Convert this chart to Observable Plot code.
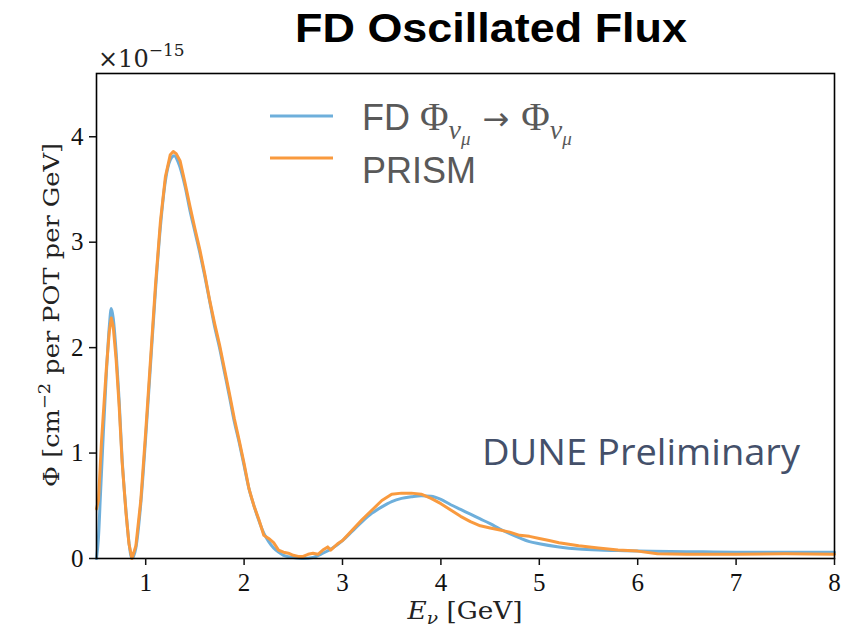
<!DOCTYPE html>
<html>
<head>
<meta charset="utf-8">
<script src="https://cdn.jsdelivr.net/npm/d3@7"></script>
<script src="https://cdn.jsdelivr.net/npm/@observablehq/plot@0.6"></script>
<style>
  html, body { margin: 0; padding: 0; background: #fff; }
  #chart svg { display: block; }
</style>
</head>
<body>
<div id="chart"></div>
<script>
// ---- Data ----
const titleText = "FD Oscillated Flux";
const seriesNames = ["FD", "PRISM"];
const xTicks = [1, 2, 3, 4, 5, 6, 7, 8];
const yTicks = [0, 1, 2, 3, 4];

// FD oscillated flux (blue), E in GeV, flux in 1e-15
const fdE = [0.5, 0.52, 0.54, 0.57, 0.6, 0.63, 0.65, 0.67, 0.7, 0.73, 0.76, 0.8, 0.83, 0.86,
  0.9, 0.95, 1.0, 1.05, 1.1, 1.15, 1.2, 1.25, 1.29, 1.33, 1.4,
  1.45, 1.5, 1.55, 1.6, 1.65, 1.7, 1.75, 1.8, 1.85, 1.9, 1.95, 2.0, 2.05, 2.1, 2.15, 2.2, 2.25, 2.3, 2.35, 2.4,
  2.5, 2.6, 2.7, 2.8, 2.9, 3.0, 3.1, 3.2, 3.3, 3.4, 3.5, 3.6, 3.7, 3.8, 3.9, 4.0, 4.1, 4.2, 4.3, 4.4, 4.5, 4.6, 4.7, 4.8, 4.9, 5.0,
  5.2, 5.4, 5.6, 5.8, 6.0, 6.5, 7.0, 7.5, 8.0];
const fdPhi = [0.0, 0.2, 0.6, 1.2, 1.75, 2.2, 2.37, 2.28, 1.95, 1.5, 0.95, 0.45, 0.15, 0.0,
  0.1, 0.52, 1.15, 1.85, 2.55, 3.15, 3.58, 3.78, 3.82, 3.76, 3.53,
  3.3, 3.1, 2.9, 2.68, 2.44, 2.2, 2.0, 1.77, 1.54, 1.3, 1.1, 0.88, 0.66, 0.5, 0.36, 0.24, 0.16, 0.1, 0.06, 0.03,
  0.01, 0.0, 0.01, 0.05, 0.1, 0.17, 0.26, 0.35, 0.43, 0.49, 0.54, 0.57, 0.585, 0.595, 0.59, 0.56, 0.51, 0.465, 0.42, 0.375, 0.33, 0.28, 0.235, 0.195, 0.16, 0.14,
  0.11, 0.09, 0.08, 0.075, 0.07, 0.065, 0.06, 0.06, 0.06];

// PRISM prediction (orange)
const prismE = [0.5, 0.52, 0.55, 0.6, 0.63, 0.65, 0.67, 0.7, 0.73, 0.76, 0.8, 0.83, 0.86,
  0.9, 0.95, 1.0, 1.05, 1.1, 1.15, 1.2, 1.25, 1.28, 1.31, 1.35,
  1.4, 1.45, 1.5, 1.55, 1.6, 1.65, 1.7, 1.75, 1.8, 1.85, 1.9, 1.95, 2.0, 2.05, 2.1, 2.15, 2.2, 2.25, 2.3, 2.35, 2.4, 2.45, 2.5, 2.55, 2.6, 2.65, 2.7, 2.75, 2.8, 2.85,
  2.88, 2.95,
  3.0, 3.1, 3.2, 3.3, 3.4, 3.5, 3.6, 3.7, 3.8, 3.9, 4.0, 4.1, 4.2, 4.3, 4.4, 4.5, 4.6, 4.7, 4.8, 4.9, 5.0, 5.1, 5.2,
  5.4, 5.6, 5.8, 6.0, 6.2, 6.5, 7.0, 7.5, 8.0];
const prismPhi = [0.47, 0.55, 1.1, 1.8, 2.15, 2.28, 2.2, 1.88, 1.45, 0.92, 0.43, 0.14, 0.0,
  0.12, 0.55, 1.2, 1.9, 2.6, 3.2, 3.62, 3.83, 3.86, 3.84, 3.77,
  3.56, 3.34, 3.13, 2.93, 2.7, 2.45, 2.23, 2.03, 1.8, 1.57, 1.33, 1.12, 0.9, 0.66, 0.5, 0.37, 0.22, 0.19, 0.15, 0.08, 0.06, 0.05, 0.03, 0.02, 0.02, 0.04, 0.05, 0.04, 0.08, 0.11,
  0.08, 0.14,
  0.17, 0.27, 0.37, 0.46, 0.55, 0.61, 0.62, 0.62, 0.61, 0.57, 0.52, 0.46, 0.4, 0.35, 0.31, 0.29, 0.27, 0.25, 0.22, 0.21, 0.19, 0.17, 0.15,
  0.12, 0.1, 0.08, 0.07, 0.045, 0.04, 0.04, 0.045, 0.04];

const colors = ["#6eafdb", "#f99a3e"];

const fd = fdE.map((e, i) => ({E: e, phi: fdPhi[i]}));
const prism = prismE.map((e, i) => ({E: e, phi: prismPhi[i]}));

const W = 861, H = 635;
const mL = 96, mR = 27, mT = 73, mB = 77;

const svg = Plot.plot({
  width: W, height: H,
  marginLeft: mL, marginRight: mR, marginTop: mT, marginBottom: mB,
  style: {fontFamily: "'Liberation Serif', serif", fontSize: "25px", color: "#111", background: "#fff", overflow: "visible"},
  x: {domain: [0.5, 8]},
  y: {domain: [0, 4.6]},
  marks: [
    Plot.line(fd, {x: "E", y: "phi", stroke: colors[0], strokeWidth: 3, curve: "monotone-x"}),
    Plot.line(prism, {x: "E", y: "phi", stroke: colors[1], strokeWidth: 3, curve: "linear"}),
    Plot.frame({stroke: "#000", strokeWidth: 1.6}),
    Plot.axisX({ticks: xTicks, tickSize: 7, tickPadding: 8, label: null, strokeWidth: 1.5, tickFormat: d => String(d)}),
    Plot.axisY({ticks: yTicks, tickSize: 7, tickPadding: 6, label: null, strokeWidth: 1.5, tickFormat: d => String(d)})
  ]
});

document.getElementById("chart").appendChild(svg);

const s = d3.select(svg);
const serif = "'DejaVu Serif', 'Liberation Serif', serif";
const tserif = "'Liberation Serif', serif";
const sans = "'Liberation Sans', Arial, sans-serif";

// Title
s.append("text")
  .attr("x", 491).attr("y", 42)
  .attr("text-anchor", "middle")
  .attr("font-family", sans).attr("font-weight", "bold")
  .attr("font-size", 40).attr("fill", "#000")
  .attr("textLength", 392).attr("lengthAdjust", "spacingAndGlyphs")
  .text(titleText);

// ×10^-15 multiplier
const mult = s.append("text").attr("x", 98).attr("y", 67)
  .attr("text-anchor", "start")
  .attr("font-family", serif).attr("font-size", 24).attr("fill", "#222");
mult.append("tspan").text("×10");
mult.append("tspan").attr("dy", -11).attr("font-size", 17).text("−15");

// Y axis label
const yl = s.append("text")
  .attr("transform", "translate(59,315) rotate(-90)")
  .attr("text-anchor", "middle")
  .attr("font-family", serif).attr("font-size", 23).attr("fill", "#222")
  .attr("textLength", 344).attr("lengthAdjust", "spacingAndGlyphs");
yl.append("tspan").text("Φ [cm");
yl.append("tspan").attr("dy", -9).attr("font-size", 16).text("−2");
yl.append("tspan").attr("dy", 9).text(" per POT per GeV]");

// X axis label
const xl = s.append("text")
  .attr("x", 465).attr("y", 619)
  .attr("text-anchor", "middle")
  .attr("font-family", serif).attr("font-size", 24).attr("fill", "#222")
  .attr("textLength", 115).attr("lengthAdjust", "spacingAndGlyphs");
xl.append("tspan").attr("font-style", "italic").text("E");
xl.append("tspan").attr("dy", 5).attr("font-size", 17).attr("font-style", "italic").text("ν");
xl.append("tspan").attr("dy", -5).text(" [GeV]");

// Legend
const legendY = [116, 158];
const gl = s.append("g").attr("text-anchor", "start");
gl.selectAll("line").data(colors).join("line")
  .attr("x1", 270).attr("x2", 333)
  .attr("y1", (d, i) => legendY[i]).attr("y2", (d, i) => legendY[i])
  .attr("stroke", d => d).attr("stroke-width", 3);

const l1 = gl.append("text").attr("x", 362).attr("y", 130)
  .attr("text-anchor", "start")
  .attr("font-family", sans).attr("font-size", 36).attr("fill", "#595959");
l1.append("tspan").text(seriesNames[0] + " ");
l1.append("tspan").attr("font-family", tserif).attr("font-size", 39).text("Φ");
l1.append("tspan").attr("font-family", tserif).attr("font-size", 28).attr("dy", 9).attr("font-style", "italic").text("ν");
l1.append("tspan").attr("font-family", tserif).attr("font-size", 19).attr("dy", 6).attr("font-style", "italic").text("μ");
l1.append("tspan").attr("font-family", "'DejaVu Sans', sans-serif").attr("font-size", 32).attr("dy", -15).attr("dx", 12).text("→");
l1.append("tspan").attr("font-family", tserif).attr("font-size", 39).attr("dx", 12).text("Φ");
l1.append("tspan").attr("font-family", tserif).attr("font-size", 28).attr("dy", 9).attr("font-style", "italic").text("ν");
l1.append("tspan").attr("font-family", tserif).attr("font-size", 19).attr("dy", 6).attr("font-style", "italic").text("μ");

gl.append("text").attr("x", 362).attr("y", 183)
  .attr("text-anchor", "start")
  .attr("font-family", sans).attr("font-size", 36).attr("fill", "#595959")
  .text(seriesNames[1]);

// DUNE Preliminary
s.append("text")
  .attr("x", 482).attr("y", 465)
  .attr("text-anchor", "start")
  .attr("font-family", "'Open Sans', 'Liberation Sans', sans-serif")
  .attr("font-size", 36).attr("fill", "#44506a")
  .attr("textLength", 318).attr("lengthAdjust", "spacingAndGlyphs")
  .text("DUNE Preliminary");
</script>
</body>
</html>
